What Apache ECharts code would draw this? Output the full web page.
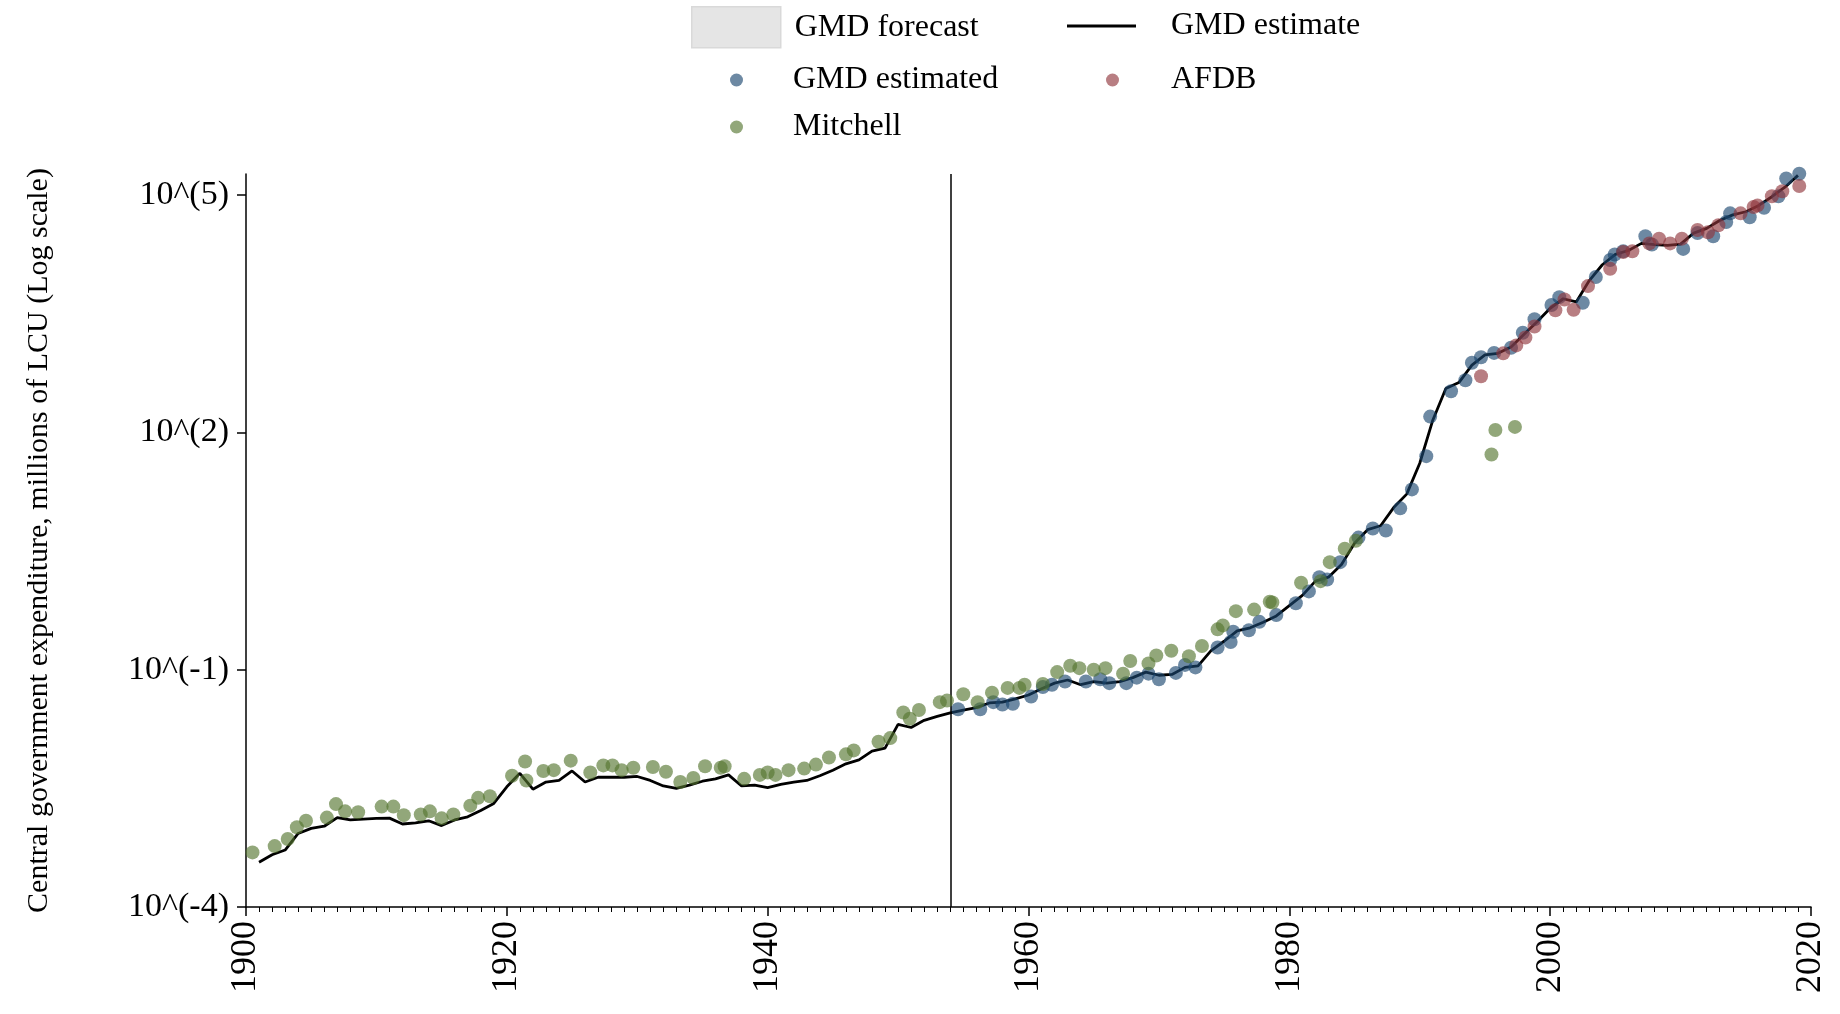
<!DOCTYPE html>
<html>
<head>
<meta charset="utf-8">
<title>Central government expenditure</title>
<script src="https://cdn.jsdelivr.net/npm/echarts@6/dist/echarts.min.js"></script>
<style>
    html, body { margin: 0; padding: 0; background: #fff; }
    #main { width: 1840px; height: 1014px; }
</style>
</head>
<body>
<div id="main"></div>
<script>
    // GMD estimate, one value per year from 1901 (millions of LCU)
    var estimateStart = 1901;
    var estimateValues = [
        0.000367, 0.000457, 0.000525, 0.000851, 0.000986, 0.00105, 0.00135, 0.00126, 0.00129, 0.00132,
        0.00133, 0.00112, 0.00116, 0.00123, 0.00107, 0.00126, 0.00138, 0.00166, 0.00204, 0.00331,
        0.00490, 0.00309, 0.00380, 0.00398, 0.00525, 0.00380, 0.00437, 0.00437, 0.00437, 0.00447,
        0.00398, 0.00339, 0.00316, 0.00347, 0.00389, 0.00417, 0.00468, 0.00339, 0.00347, 0.00324,
        0.00355, 0.00380, 0.00398, 0.00457, 0.00537, 0.00646, 0.00724, 0.00933, 0.0102, 0.0204,
        0.0186, 0.0229, 0.0257, 0.0285, 0.0309, 0.0331, 0.0380, 0.0389, 0.0427, 0.0479,
        0.0575, 0.0676, 0.0741, 0.0646, 0.0708, 0.0676, 0.0708, 0.0794, 0.0933, 0.0851,
        0.0871, 0.107, 0.112, 0.174, 0.229, 0.309, 0.339, 0.398, 0.479, 0.646,
        0.871, 1.318, 1.479, 2.138, 3.981, 5.888, 6.607, 11.22, 16.60, 40.74,
        142.9, 358.9, 426.6, 707.9, 955, 1000, 1202, 1738, 2512, 3715,
        4898, 4467, 8318, 13180, 17780, 19950, 24550, 23710, 23170, 23990,
        33110, 38020, 47860, 56230, 61660, 74130, 95500, 125900, 177800
    ];

    // [year, value]
    var gmdEstimated = [
        [1954.6, 0.0316], [1956.3, 0.0316], [1957.3, 0.0389], [1958.0, 0.0363], [1958.8, 0.0372],
        [1960.2, 0.0457], [1961.1, 0.0603], [1961.8, 0.0646], [1962.8, 0.0708], [1964.4, 0.0708],
        [1965.5, 0.0759], [1966.2, 0.0676], [1967.5, 0.0676], [1968.3, 0.0794], [1969.2, 0.0891],
        [1970.0, 0.0759], [1971.3, 0.0912], [1972.0, 0.115], [1972.8, 0.107], [1974.5, 0.191],
        [1975.5, 0.224], [1975.7, 0.302], [1976.9, 0.316], [1977.7, 0.403], [1979.0, 0.490],
        [1980.5, 0.692], [1981.5, 0.977], [1982.3, 1.479], [1982.9, 1.380], [1983.9, 2.291],
        [1985.3, 4.677], [1986.4, 6.10], [1987.4, 5.754], [1988.5, 10.96], [1989.4, 19.05],
        [1990.5, 50.1], [1990.8, 158.5], [1992.4, 331], [1993.5, 457], [1994.0, 759],
        [1994.7, 891], [1995.7, 1012], [1997.0, 1175], [1997.9, 1820], [1998.8, 2692],
        [2000.1, 4074], [2000.7, 5129], [2002.5, 4365], [2003.5, 9226], [2004.6, 15140],
        [2004.95, 17780], [2005.6, 19500], [2007.3, 30200], [2007.8, 23710], [2010.2, 20890],
        [2011.3, 33110], [2012.5, 30200], [2013.5, 45710], [2013.8, 58880], [2015.3, 52480],
        [2016.4, 69180], [2017.5, 96600], [2018.1, 162200], [2019.1, 186200]
    ];

    var afdb = [
        [1994.7, 512.9], [1996.4, 1000], [1997.4, 1259], [1998.1, 1585], [1998.8, 2188],
        [2000.4, 3508], [2001.1, 4786], [2001.8, 3548], [2002.9, 7079], [2004.6, 11750],
        [2005.6, 19050], [2006.3, 19500], [2007.6, 24550], [2008.35, 28180], [2009.2, 24550],
        [2010.1, 28180], [2011.3, 36310], [2012.1, 33880], [2012.9, 41690], [2014.6, 58880],
        [2015.6, 70790], [2015.9, 74130], [2017.0, 96600], [2017.8, 112200], [2019.1, 130300]
    ];

    var mitchell = [
        [1900.5, 0.00049], [1902.2, 0.000589], [1903.2, 0.000724], [1903.9, 0.00102], [1904.6, 0.00123],
        [1906.2, 0.00135], [1906.9, 0.00200], [1907.6, 0.00162], [1908.6, 0.00158], [1910.4, 0.00186],
        [1911.3, 0.00186], [1912.1, 0.00145], [1913.4, 0.00148], [1914.1, 0.00162], [1915.0, 0.00132],
        [1915.9, 0.00148], [1917.2, 0.00191], [1917.8, 0.00240], [1918.7, 0.00251], [1920.4, 0.00457],
        [1921.4, 0.00692], [1921.5, 0.00398], [1922.8, 0.00525], [1923.6, 0.00537], [1924.9, 0.00708],
        [1926.4, 0.00501], [1927.4, 0.00617], [1928.1, 0.00617], [1928.8, 0.00537], [1929.7, 0.00575],
        [1931.2, 0.00589], [1932.2, 0.00513], [1933.3, 0.00380], [1934.3, 0.00427], [1935.2, 0.00603],
        [1936.4, 0.00575], [1936.7, 0.00603], [1938.2, 0.00417], [1939.4, 0.00468], [1940.0, 0.00501],
        [1940.6, 0.00468], [1941.6, 0.00537], [1942.8, 0.00562], [1943.7, 0.00631], [1944.7, 0.00776],
        [1946.0, 0.00851], [1946.6, 0.00955], [1948.5, 0.0123], [1949.4, 0.01365], [1950.4, 0.0288],
        [1950.9, 0.0240], [1951.6, 0.0309], [1953.2, 0.0389], [1953.75, 0.0407], [1955.0, 0.0490],
        [1956.1, 0.0389], [1957.2, 0.0513], [1958.4, 0.0589], [1959.3, 0.0589], [1959.7, 0.0646],
        [1961.1, 0.0661], [1962.2, 0.0933], [1963.2, 0.112], [1963.9, 0.1047], [1965.0, 0.100],
        [1965.9, 0.1047], [1967.25, 0.0891], [1967.8, 0.1288], [1969.2, 0.1202], [1969.8, 0.1514],
        [1970.95, 0.1738], [1972.3, 0.1479], [1973.3, 0.1995], [1974.5, 0.324], [1974.9, 0.363],
        [1975.9, 0.550], [1977.3, 0.575], [1978.5, 0.724], [1978.7, 0.708], [1980.9, 1.259],
        [1982.4, 1.318], [1983.1, 2.291], [1984.25, 3.388], [1985.1, 4.266], [1995.5, 52.5],
        [1995.8, 107.2], [1997.3, 117.5]
    ];

    var yTicks = [0.0001, 0.1, 100, 100000];
    var splitYear = 1954;

    var FONT = "'Liberation Serif', 'DejaVu Serif', serif";
    var NAVY = 'rgba(26,71,111,0.8)';
    var MAROON = 'rgba(144,53,59,0.8)';
    var FOREST = 'rgba(85,117,47,0.8)';

    var estimate = [];
    for (var i = 0; i < estimateValues.length; i++) {
        estimate.push([estimateStart + i, estimateValues[i]]);
    }

    function legendBox(name, left, top, w, h, pad, extra) {
        var item = { name: name };
        for (var k in extra) item[k] = extra[k];
        return {
            data: [item],
            left: left,
            top: top,
            orient: 'horizontal',
            padding: 0,
            itemWidth: w,
            itemHeight: h,
            selectedMode: false,
            textStyle: { fontFamily: FONT, fontSize: 32, color: '#000', padding: [0, 0, 0, pad] }
        };
    }

    var option = {
        backgroundColor: '#fff',
        animation: false,
        legend: [
            legendBox('GMD forecast', 691, 6, 89, 41, 9,
                { icon: 'rect', itemStyle: { color: '#e5e5e5', borderColor: '#d9d9d9', borderWidth: 1.5 } }),
            legendBox('GMD estimate', 1067, 10, 69, 3, 30,
                { icon: 'rect', itemStyle: { color: '#000', borderWidth: 0 } }),
            legendBox('GMD estimated', 730, 64, 13, 13, 45, { icon: 'circle' }),
            legendBox('AFDB', 1106, 64, 13, 13, 47, { icon: 'circle' }),
            legendBox('Mitchell', 730, 111, 13, 13, 45, { icon: 'circle' })
        ],
        grid: { left: 246, right: 29, top: 174, bottom: 107, containLabel: false },
        xAxis: {
            type: 'value',
            min: 1900,
            max: 2020,
            interval: 20,
            axisLine: { show: true, lineStyle: { color: '#000', width: 1.5 } },
            axisTick: { show: true, length: 9, lineStyle: { color: '#000', width: 1.5 } },
            minorTick: { show: true, splitNumber: 20, length: 5, lineStyle: { color: '#000', width: 1 } },
            axisLabel: {
                rotate: 90, margin: 14, fontFamily: FONT, fontSize: 36, color: '#000',
                formatter: function (v) { return String(v); }
            },
            splitLine: { show: false }
        },
        yAxis: {
            type: 'log',
            logBase: 10,
            min: 0.0001,
            max: 185000,
            name: 'Central government expenditure, millions of LCU (Log scale)',
            nameLocation: 'middle',
            nameRotate: 90,
            nameGap: 192,
            nameTextStyle: { fontFamily: FONT, fontSize: 30, color: '#000' },
            axisLine: { show: true, lineStyle: { color: '#000', width: 1.5 } },
            axisTick: { show: true, length: 9, customValues: yTicks, lineStyle: { color: '#000', width: 1.5 } },
            minorTick: { show: false },
            axisLabel: {
                margin: 17, fontFamily: FONT, fontSize: 34, color: '#000',
                customValues: yTicks,
                formatter: function (v) { return '10^(' + Math.round(Math.log10(v)) + ')'; }
            },
            splitLine: { show: false }
        },
        series: [
            {
                name: 'GMD forecast',
                type: 'line',
                data: [],
                itemStyle: { color: '#e5e5e5' }
            },
            {
                name: 'GMD estimate',
                type: 'line',
                data: estimate,
                showSymbol: false,
                symbol: 'none',
                itemStyle: { color: '#000' },
                lineStyle: { color: '#000', width: 2.8 },
                markLine: {
                    silent: true,
                    symbol: 'none',
                    label: { show: false },
                    lineStyle: { color: '#000', width: 1.5, type: 'solid' },
                    data: [{ xAxis: splitYear }]
                },
                z: 2
            },
            {
                name: 'GMD estimated',
                type: 'scatter',
                data: gmdEstimated,
                symbolSize: 14,
                clip: false,
                itemStyle: { color: NAVY },
                z: 3
            },
            {
                name: 'AFDB',
                type: 'scatter',
                data: afdb,
                symbolSize: 14,
                clip: false,
                itemStyle: { color: MAROON },
                z: 4
            },
            {
                name: 'Mitchell',
                type: 'scatter',
                data: mitchell,
                symbolSize: 14,
                clip: false,
                itemStyle: { color: FOREST },
                z: 5
            }
        ]
    };

    var myChart = echarts.init(document.getElementById('main'));
    myChart.setOption(option);
</script>
</body>
</html>
